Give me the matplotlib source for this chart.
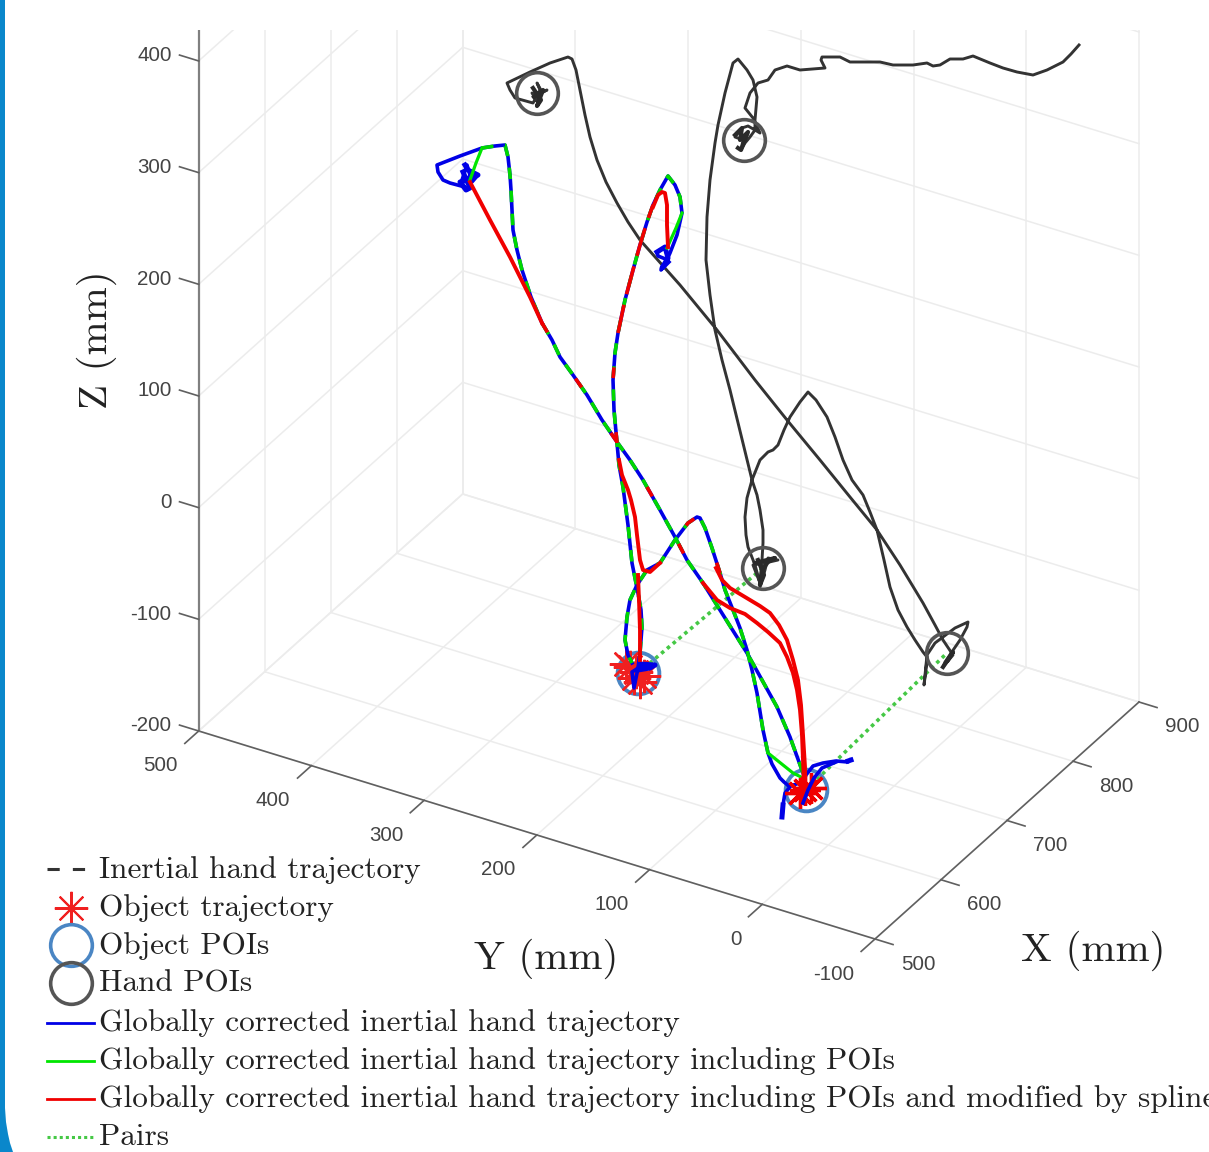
import matplotlib
matplotlib.use("Agg")
import matplotlib.pyplot as plt
from matplotlib.patches import Rectangle
import numpy as np

# axis ticks in mm
x_ticks = [500, 600, 700, 800, 900]
y_ticks = [500, 400, 300, 200, 100, 0, -100]
z_ticks = [400, 300, 200, 100, 0, -100, -200]
z_grid = [-200, -100, 0, 100, 200, 300, 400, 500, 600, 700, 800]

legend_labels = ["Inertial hand trajectory", "Object trajectory", "Object POIs", "Hand POIs",
                 "Globally corrected inertial hand trajectory",
                 "Globally corrected inertial hand trajectory including POIs",
                 "Globally corrected inertial hand trajectory including POIs and modified by spline",
                 "Pairs"]

# traces (view plane)
black_trace = [(1079,45),(1071,54),(1063,62),(1047,70),(1033,75),(1017,72),(1003,68),(990,63),(973,56),(963,59),(950,59),(940,65),
    (933,66),(927,63),(913,65),(893,65),(880,62),(867,62),(850,62),(840,57),(822,57),(821,60),(825,68),(800,70),(787,66),
    (775,70),(768,80),(758,83),(750,93),(745,108),(753,118),(760,133),(755,130),(748,126),(742,128),(735,137),(743,140),
    (741,150),(745,143),(750,137),(755,130),(755,120),(757,97),(753,80),(747,70),(738,59),(733,63),(729,78),(725,93),(718,125),
    (715,143),(710,180),(707,217),(706,260),(710,295),(715,330),(722,360),(730,390),(741,435),(752,480),(757,495),(760,510),
    (763,530),(763,543),(762,560),(760,587),(765,570),(768,558),(778,560),(765,563),(753,565),(760,583),(755,565),(748,547),
    (746,535),(745,517),(747,498),(752,480),(760,460),(768,452),(773,450),(778,445),(784,430),(790,417),(800,402),(808,392),(816,400),(827,417),(835,437),(843,460),
    (852,480),(863,495),(870,512),(877,530),(884,560),(890,587),(898,610),(907,627),(915,640),(923,652),(927,657),(926,670),(924,685),(927,655),
    (935,643),(943,637),(955,628),(968,622),(967,627),(960,640),(945,662),(943,667),(953,655),(943,640),(935,625),(923,603),
    (900,565),(877,530),(850,497),(820,460),(787,420),(755,380),(717,330),(680,285),(640,240),(628,222),(617,203),(606,182),(597,160),(590,137),
    (585,115),(580,90),(576,70),(572,59),(568,57),(550,63),(530,72),(507,83),(510,90),(515,98),(533,103),(537,96),(540,90),(537,83),(542,92),
    (547,90),(538,95),(532,93),(538,103),(537,93)]
black_blobs = [[(533,88),(541,100),(537,106),(543,90),(534,97)],
    [(735,135),(742,128),(740,140),(748,132),(741,150),(738,148)],
    [(755,563),(775,558),(768,562),(762,570),(760,585),(764,575),(758,560)],
    [(943,667),(953,652),(948,660)]]

blue_path_1 = [(462,180),(467,165),(472,182),(478,175),(466,178),(462,184),(467,190),(465,187),(450,183),(443,180),(438,172),
    (437,165),(460,156),(482,148),(495,146),(505,145),(508,157),(510,175),(511,190),(512,210),(513,230),(517,250),(522,270),
    (531,297),(542,323),(552,340),(560,357),(573,375),(587,395),(602,420),(617,442),(630,460),(643,480),(660,510),(675,537),
    (687,560),(703,583),(725,618),(747,653),(762,680),(777,707),(790,737),(803,773)]
blue_path_2 = [(782,817),(783,805),(785,793),(790,787),(784,782),(780,778),(772,764),(768,753),(763,730),(757,693),(752,670),
    (747,650),(740,628),(733,610),(725,590),(720,573),(712,548),(705,528),(700,518),(697,517),(688,523),(675,540),(660,563),
    (647,570),(637,585),(630,600),(627,617),(625,640),(628,655),(632,663)]
blue_path_3 = [(653,665),(640,667),(632,672),(634,688),(638,668),(640,653),(642,627),(641,610),(638,593),(632,563),(628,525),
    (623,487),(619,465),(617,443),(614,410),(613,380),(615,353),(618,333),(625,300),(633,270),(640,245),(647,222),(653,205),
    (660,190),(668,176),(675,185),(680,197),(682,213),(677,235),(670,253),(664,266),(661,270),(668,260),(658,256),(657,252),
    (665,247),(668,258)]
blue_arm_1 = [(850,760),(848,762),(836,761),(823,763),(813,766),(806,775),(803,782),(790,786)]
blue_arm_2 = [(836,762),(822,768),(814,778),(808,790),(803,803)]
blue_blobs = [[(463,172),(470,188),(466,190),(460,182),(472,178),(478,175),(468,170),(465,165)],
    [(657,252),(665,247),(668,258),(662,268),(668,262)],
    [(640,664),(655,665),(650,668),(638,670)],
    [(782,817),(783,805)], [(848,761),(851,760)]]

green_only = [[(470,180),(476,163),(482,148)], [(803,778),(793,773),(768,753)], [(682,213),(676,228),(667,248)]]

red_only = [[(470,182),(490,220),(510,257),(530,297),(542,323)],
    [(703,583),(717,600),(730,608),(745,614),(757,623),(768,632),(780,643),(787,657),(793,673),(797,690),(800,710),(802,735),(803,760),(804,785)],
    [(716,568),(722,580),(730,588),(740,594),(750,600),(760,606),(770,613),(779,625),(787,640),(793,660),(798,680),(801,705),(803,735),(805,767),(805,785)],
    [(660,563),(650,572),(643,570),(640,560),(637,535),(635,517),(631,500),(628,490),(622,475),(619,460)],
    [(638,575),(639,600),(640,630),(640,660)],
    [(653,207),(658,195),(662,192),(665,193),(667,205),(667,225),(668,247)]]

object_stars_1 = [(630,667),(640,682),(636,672),(634,678),(626,664),(644,676)]
object_stars_2 = [(805,790),(800,793),(811,788)]
object_pois = [(638,673),(806,790)]
hand_pois = [(537,93),(744,140),(763,568),(947,653)]
band_x = [0,5,5,6,8,10,13,0]
band_y = [0,0,1108,1122,1134,1143,1152,1152]

sans = "Liberation Sans"
serif = "cmr10"
tick_col = "#444444"
txt_col = "#222222"
grid_col = "#ececec"
poi_blue = "#4a86c4"
poi_grey = "#555555"
pair_green = "#45c845"

def project(x, y, z):
    u = 875 + (x-500)*0.66 - (y+100)*1.1272
    v = 939 - (x-500)*0.5925 - (y+100)*0.3467 - (z+200)*1.1167
    return u, v

def part(path, a, b):
    return path[path.index(a):path.index(b)+1]

green_shared = [part(blue_path_1, (482,148), (803,773)), part(blue_path_2, (768,753), (632,663)),
                part(blue_path_3, (640,653), (682,213))]
red_sparse = [part(blue_path_1, (542,323), (703,583)), part(blue_path_2, (720,573), (660,563)),
              part(blue_path_3, (617,443), (618,333))]
red_dense = [part(blue_path_3, (618,333), (653,205))]

fig = plt.figure(figsize=(12.09, 11.52), dpi=100)
ax = fig.add_axes([0, 0, 1, 1])
ax.set_xlim(0, 1209)
ax.set_ylim(1152, 0)
ax.axis("off")
clip = Rectangle((0, 30), 1209, 1122, transform=ax.transData)

def seg(a, b, **kw):
    l, = ax.plot([a[0], b[0]], [a[1], b[1]], **kw)
    l.set_clip_path(clip)

def trace(pts, **kw):
    p = np.array(pts)
    ax.plot(p[:,0], p[:,1], solid_joinstyle="round", dash_capstyle="butt", **kw)

ax.fill(band_x, band_y, color="#0a87cb", lw=0)

# grid on floor and the two walls
grid = dict(color=grid_col, lw=1.1, zorder=1)
for xv in x_ticks:
    seg(project(xv,500,-200), project(xv,-100,-200), **grid)
    seg(project(xv,500,-200), project(xv,500,800), **grid)
for yv in y_ticks:
    seg(project(500,yv,-200), project(900,yv,-200), **grid)
    seg(project(900,yv,-200), project(900,yv,800), **grid)
for zv in z_grid:
    seg(project(500,500,zv), project(900,500,zv), **grid)
    seg(project(900,500,zv), project(900,-100,zv), **grid)

# axes lines and ticks
axis = dict(color="#606060", lw=1.2, zorder=2)
seg(project(500,500,-200), project(500,-100,-200), **axis)
seg(project(500,-100,-200), project(900,-100,-200), **axis)
seg(project(500,500,-200), project(500,500,800), color="#808080", lw=1.6, zorder=2)
for zv in z_ticks:
    seg(project(500,500,zv), project(500,517,zv), **axis)
    u, v = project(500,500,zv)
    ax.text(u-27, v-5, str(zv), family=sans, fontsize=14.8, color=tick_col, ha="right", va="center")
for yv in y_ticks:
    seg(project(500,yv,-200), project(479,yv,-200), **axis)
    u, v = project(500,yv,-200)
    ax.text(u-21, v+35, str(yv), family=sans, fontsize=14.8, color=tick_col, ha="right", va="center")
for xv in x_ticks:
    seg(project(xv,-100,-200), project(xv,-116,-200), **axis)
    u, v = project(xv,-100,-200)
    ax.text(u+26, v+25, str(xv), family=sans, fontsize=14.8, color=tick_col, ha="left", va="center")

ax.text(1021, 961, "X (mm)", family=serif, fontsize=29.5, color=txt_col, ha="left", va="baseline")
ax.text(474, 969, "Y (mm)", family=serif, fontsize=29.5, color=txt_col, ha="left", va="baseline")
ax.text(107, 340, "Z (mm)", family=serif, fontsize=29.5, color=txt_col, ha="center", va="baseline",
        rotation=90, rotation_mode="anchor")

# pairs
pairs = dict(color=pair_green, lw=2.6, ls=(0,(1,1.1)), zorder=3)
ax.plot([object_pois[0][0], hand_pois[2][0]], [object_pois[0][1], hand_pois[2][1]], **pairs)
ax.plot([object_pois[1][0], hand_pois[3][0]], [object_pois[1][1], hand_pois[3][1]], **pairs)

trace(black_trace, color="#333333", lw=2.1, zorder=4)
for part_ in black_blobs:
    trace(part_, color="#2a2a2a", lw=3, zorder=4)
for p in hand_pois:
    ax.plot(*p, "o", ms=30, mfc="none", mec=poi_grey, mew=2.6, zorder=5)
for p in object_pois:
    ax.plot(*p, "o", ms=30, mfc="none", mec=poi_blue, mew=2.8, zorder=5)

star = (8, 2, 0)
for p in object_stars_1:
    ax.plot(*p, marker=star, ms=24, mfc="none", mec="#f02020", mew=1.7, zorder=6)

lw = 2.6
for path in [blue_path_1, blue_path_2, blue_path_3, blue_arm_1, blue_arm_2]:
    trace(path, color="#0000e6", lw=lw, zorder=7)
for path in blue_blobs:
    trace(path, color="#0000e6", lw=3.6, zorder=7)
for path in green_only:
    trace(path, color="#00e600", lw=lw-0.3, zorder=8)
for path in green_shared:
    trace(path, color="#00d800", lw=lw, ls=(0,(3.2,3.2)), zorder=8)
for path in red_sparse:
    trace(path, color="#f00000", lw=lw, ls=(0,(3,15)), zorder=9)
for path in red_dense:
    trace(path, color="#f00000", lw=lw, ls=(0,(8,3)), zorder=9)
for path in red_only:
    trace(path, color="#f00000", lw=lw+0.2, zorder=9)
for p in object_stars_2:
    ax.plot(*p, marker=star, ms=22, mfc="none", mec="#f00000", mew=2.4, zorder=10)
trace(blue_arm_2[2:], color="#0000e6", lw=lw, zorder=11)

# legend
base = [878, 916, 954, 992, 1031, 1069, 1107, 1145]
for b, lab in zip(base, legend_labels):
    ax.text(99, b, lab, family=serif, fontsize=22.5, color=txt_col, ha="left", va="baseline")
ax.plot([47, 85], [869, 869], color="#333333", lw=2.2, ls=(0,(4,4.3)), dash_capstyle="butt")
ax.plot(71, 908, marker=star, ms=24, mfc="none", mec="#f02020", mew=1.5)
ax.plot(71, 945, "o", ms=30, mfc="none", mec=poi_blue, mew=2.6)
ax.plot(71, 983, "o", ms=30, mfc="none", mec=poi_grey, mew=2.6)
ax.plot([47, 94], [1023, 1023], color="#0000e6", lw=2)
ax.plot([47, 94], [1061, 1061], color="#00e600", lw=2)
ax.plot([47, 94], [1099, 1099], color="#f00000", lw=2)
ax.plot([47, 94], [1137, 1137], color=pair_green, lw=2.2, ls=(0,(1,1)))

fig.savefig("out.png", dpi=100)
